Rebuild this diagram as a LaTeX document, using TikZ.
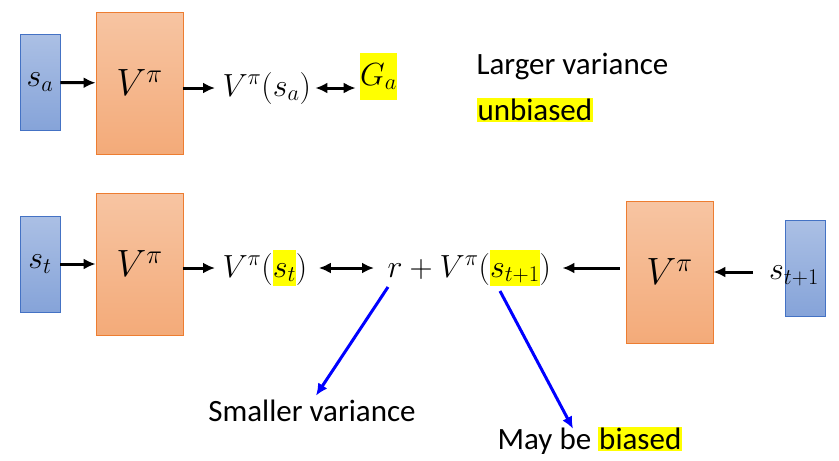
\RequirePackage{fix-cm}
\documentclass[tikz,border=0pt]{standalone}
\usepackage{amsmath}
\usepackage{fontspec}
\setmainfont{Carlito}
\usepackage{tikz}
\usetikzlibrary{arrows.meta}

\definecolor{stateblue}{HTML}{4472C4}
\definecolor{valueorange}{HTML}{ED7D31}
\definecolor{hlyellow}{HTML}{FFFF00}
\newcommand{\hl}[1]{{\setlength{\fboxsep}{1pt}\colorbox{hlyellow}{#1}}}
\newcommand{\hlmath}[1]{{\setlength{\fboxsep}{0pt}\colorbox{hlyellow}{\rule[-9pt]{0pt}{36pt}$#1$}}}

\begin{document}
\begin{tikzpicture}[x=1pt,y=-1pt,>={Latex[length=12pt,width=11pt]},line width=3pt,
                    font=\fontsize{32}{38}\selectfont,
                    state node/.style={draw=stateblue,line width=0.8pt,top color=stateblue!45,
                      bottom color=stateblue!65,minimum width=40pt,minimum height=96pt,inner sep=0pt},
                    value node/.style={draw=valueorange,line width=0.8pt,top color=valueorange!45,
                      bottom color=valueorange!65,minimum width=87pt,minimum height=142pt,inner sep=0pt,
                      font=\fontsize{38}{42}\selectfont},
                    word node/.style={font=\fontsize{31}{36}\selectfont,inner sep=1pt},
                    note arrow/.style={->,draw=blue,line width=3pt}]

  \useasboundingbox (0,0) rectangle (839,461);

  % first row
  \node[state node] (sa) at (40,82.5) {$s_a$};
  \node[value node] (Va) at (139.5,83) {$V^\pi$};
  \node[anchor=west,inner sep=2pt] (vsa) at (219,88) {$V^\pi(s_a)$};
  \node[fill=hlyellow,minimum width=33pt,minimum height=47pt,inner sep=0pt] (Ga) at (378.5,76.5) {$G_a$};

  \node[word node,anchor=west] (larger) at (474,66) {Larger variance};
  \node[word node,anchor=west,fill=hlyellow] (unbiased) at (475,110) {unbiased};

  \path[->]
    (sa) edge (Va)
    (Va.east |- vsa.west) edge[shorten >=4pt] (vsa.west)
    (vsa.east) edge[<->,shorten <=1pt,shorten >=3pt] (Ga.west |- vsa.east);

  % second row
  \node[state node] (st) at (40,264) {$s_t$};
  \node[value node] (Vt) at (139.5,264) {$V^\pi$};
  \node[anchor=west,inner sep=2pt] (vst) at (219,268) {$V^\pi(\hlmath{s_t})$};
  \node[anchor=west,inner sep=2pt] (tgt) at (384,268) {$r + V^\pi(\hlmath{s_{t+1}})$};
  \node[value node] (Vr) at (669.5,272) {$V^\pi$};
  \node[state node] (sr) at (805.5,268) {};
  \node[inner sep=2pt] (st1) at (794,276) {$s_{t+1}$};

  \path[->]
    (st) edge (Vt)
    (Vt.east |- vst.west) edge[shorten >=4pt] (vst.west)
    (vst) edge[<->,shorten <=8pt,shorten >=10pt] (tgt)
    (Vr.west |- tgt.east) edge[shorten <=6pt,shorten >=8pt] (tgt.east)
    (sr.west |- Vr.east) edge[shorten <=32pt] (Vr.east);

  % notes
  \coordinate (rterm) at (388,287);
  \coordinate (nextterm) at (500,291);
  \node[word node] (small) at (312,411) {Smaller variance};
  \node[word node] (bias) at (590,441) {May be \hl{biased}};

  \draw[note arrow] (rterm) -- ([xshift=4pt,yshift=2pt]small.north);
  \draw[note arrow] (nextterm) -- ([xshift=-17pt,yshift=-4pt]bias.north);

\end{tikzpicture}
\end{document}
